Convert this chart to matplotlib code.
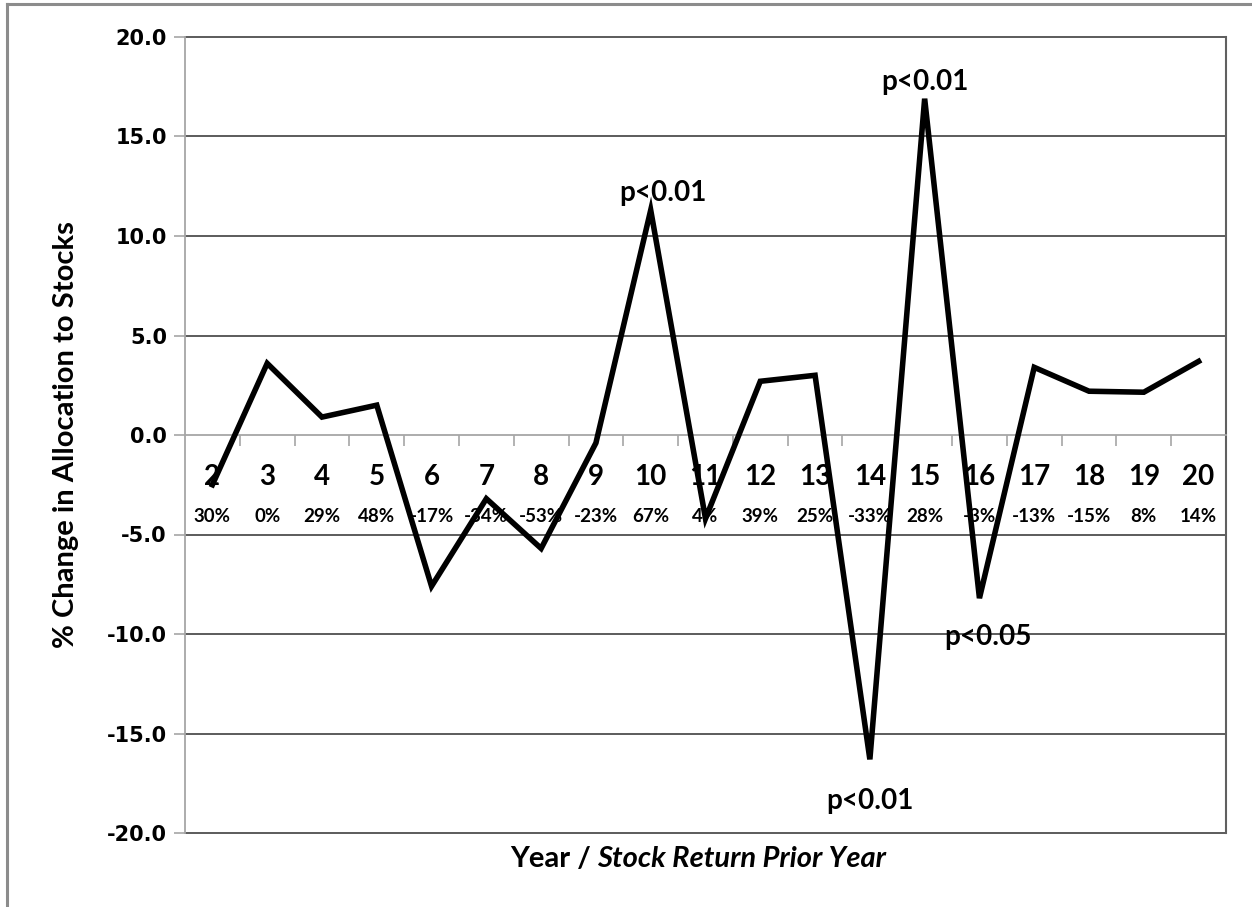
import matplotlib
matplotlib.use("Agg")
import matplotlib.pyplot as plt
from matplotlib.lines import Line2D
from matplotlib.ticker import FixedLocator, NullFormatter

# year index and change in stock allocation (%)
years = ["2", "3", "4", "5", "6", "7", "8", "9", "10", "11",
         "12", "13", "14", "15", "16", "17", "18", "19", "20"]
change = [-2.5, 3.6, 0.9, 1.5, -7.6, -3.2, -5.7, -0.4, 11.3, -4.2,
          2.7, 3.0, -16.3, 16.9, -8.2, 3.4, 2.2, 2.15, 3.7]
# stock market return of the prior year
prior_return = ["30%", "0%", "29%", "48%", "-17%", "-34%", "-53%", "-23%", "67%", "4%",
                "39%", "25%", "-33%", "28%", "-3%", "-13%", "-15%", "8%", "14%"]

# significance notes: (category index, text, dx px, dy px to baseline)
notes = [(8, "p<0.01", 12, 9), (13, "p<0.01", 0, 9),
         (12, "p<0.01", 0, -50), (14, "p<0.05", 8, -47)]

lab_font = "Lato"

fig = plt.figure(figsize=(12.52, 9.07), dpi=100)
ax = fig.add_axes([185 / 1252, 1 - 833 / 907, (1226 - 185) / 1252, (833 - 37) / 907])

x = list(range(len(years)))
ax.set_xlim(-0.5, len(years) - 0.5)
ax.set_ylim(-20, 20)

# horizontal gridlines
for v in [-20, -15, -10, -5, 5, 10, 15, 20]:
    ax.axhline(v, color="#404040", lw=1.2, zorder=1, clip_on=False)

ax.plot(x, change, color="black", lw=4, solid_joinstyle="miter", zorder=3)

# spines
ax.spines["bottom"].set_position(("data", 0))
ax.spines["bottom"].set_color("#a6a6a6")
ax.spines["bottom"].set_linewidth(1.3)
ax.spines["left"].set_color("#a6a6a6")
ax.spines["left"].set_linewidth(1.3)
ax.spines["top"].set_visible(False)
ax.spines["right"].set_color("#606060")
ax.spines["right"].set_linewidth(1.5)

# y axis
ax.set_yticks(range(-20, 21, 5))
ax.set_yticklabels([f"{v:.1f}" for v in range(-20, 21, 5)],
                   fontfamily="DejaVu Sans", fontweight="bold", fontsize=15)
ax.tick_params(axis="y", direction="out", length=8, width=1.2, color="#a6a6a6", pad=5)

# category ticks between the points
ax.xaxis.set_major_locator(FixedLocator([i + 0.5 for i in x[:-1]]))
ax.xaxis.set_major_formatter(NullFormatter())
ax.tick_params(axis="x", direction="out", length=8, width=1.2, color="#a6a6a6")

for i in x:
    ax.annotate(years[i], xy=(i, 0), xytext=(0, -42), textcoords="offset pixels",
                ha="center", va="center", fontsize=20, fontweight="bold",
                fontfamily=lab_font, zorder=2)
    ax.annotate(prior_return[i], xy=(i, 0), xytext=(0, -82), textcoords="offset pixels",
                ha="center", va="center", fontsize=13.5, fontweight="bold",
                fontfamily=lab_font, zorder=2)

for i, txt, dx, dy in notes:
    ax.annotate(txt, xy=(i, change[i]), xytext=(dx, dy), textcoords="offset pixels",
                ha="center", va="baseline", fontsize=20, fontweight="bold",
                fontfamily=lab_font, zorder=4)

ax.set_ylabel("% Change in Allocation to Stocks", fontsize=21, fontweight="bold",
              fontfamily=lab_font, labelpad=20)

# x axis title: plain part + italic part
fig.canvas.draw()
r = fig.canvas.get_renderer()
t1 = fig.text(0, 0, "Year /", fontsize=21, fontweight="bold", fontfamily=lab_font)
t2 = fig.text(0, 0, "Stock Return Prior Year", fontsize=21, fontweight="bold",
              fontstyle="italic", fontfamily=lab_font)
w1 = t1.get_window_extent(r).width + 6
w2 = t2.get_window_extent(r).width
cx = 698
y_base = 1 - 867 / 907
t1.set_position(((cx - (w1 + w2) / 2) / 1252, y_base))
t2.set_position(((cx - (w1 + w2) / 2 + w1) / 1252, y_base))

# outer chart border
fig.add_artist(Line2D([7 / 1252, 7 / 1252], [0, 1 - 4 / 907], color="#8c8c8c", lw=2.2))
fig.add_artist(Line2D([7 / 1252, 1], [1 - 4 / 907, 1 - 4 / 907], color="#8c8c8c", lw=2.2))

fig.savefig("out.png", dpi=100)
